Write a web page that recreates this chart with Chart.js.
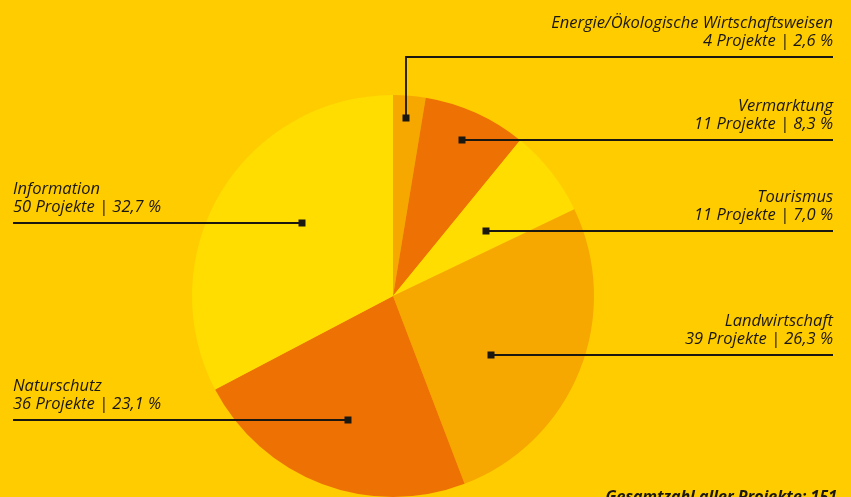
<!DOCTYPE html>
<html>
<head>
<meta charset="utf-8">
<script src="https://cdn.jsdelivr.net/npm/chart.js@4"></script>
<style>
html,body{margin:0;padding:0;background:#FFCC00;overflow:hidden;}
#wrap{width:851px;height:497px;position:relative;}
</style>
</head>
<body>
<div id="wrap"><canvas id="c" width="851" height="497"></canvas></div>
<script>
const categories = ["Energie/Ökologische Wirtschaftsweisen","Vermarktung","Tourismus","Landwirtschaft","Naturschutz","Information"];
const projects = [4, 11, 11, 39, 36, 50];
const percents = [2.6, 8.3, 7.0, 26.3, 23.1, 32.7];
const sliceColors = ["#F6A800","#EE7203","#FFDD00","#F6A800","#EE7203","#FFDD00"];
const totalLabel = "Gesamtzahl aller Projekte: 151";

// label/marker styling: marker angle (deg from top, clockwise) & radius fraction; label side
const markerStyle = [
  {ang:4.2,  rf:0.89, side:"right", elbowY:57},
  {ang:24,   rf:0.85, side:"right"},
  {ang:55,   rf:0.565,side:"right"},
  {ang:121,  rf:0.57, side:"right"},
  {ang:200,  rf:0.655,side:"left"},
  {ang:309,  rf:0.58, side:"left"}
];

function fmt(v){ return v.toFixed(1).replace('.', ','); }

const labelPlugin = {
  id:'labels',
  afterDraw(chart){
    const ctx = chart.ctx;
    const arc = chart.getDatasetMeta(0).data[0];
    const cx = arc.x, cy = arc.y, R = arc.outerRadius;
    const rightX = 833, leftX = 13;
    ctx.save();
    ctx.font = "italic 16.5px 'Open Sans'";
    ctx.fillStyle = "#1a1710";
    ctx.strokeStyle = "#1a1710";
    ctx.lineWidth = 1.8;
    categories.forEach((name, i) => {
      const s = markerStyle[i];
      const a = (s.ang - 90) * Math.PI/180;
      const mx = Math.round(cx + Math.cos(a)*R*s.rf);
      const my = Math.round(cy + Math.sin(a)*R*s.rf);
      const ly = s.elbowY !== undefined ? s.elbowY : my;
      ctx.beginPath();
      if (s.elbowY !== undefined){
        ctx.moveTo(mx, my); ctx.lineTo(mx, ly); ctx.lineTo(rightX, ly);
      } else if (s.side === "right"){
        ctx.moveTo(mx, ly); ctx.lineTo(rightX, ly);
      } else {
        ctx.moveTo(leftX, ly); ctx.lineTo(mx, ly);
      }
      ctx.stroke();
      ctx.fillRect(mx-3.5, my-3.5, 7, 7);
      const l2 = projects[i] + " Projekte | " + fmt(percents[i]) + " %";
      if (s.side === "right"){
        ctx.textAlign = "right";
        ctx.fillText(name, rightX, ly-29);
        ctx.fillText(l2, rightX, ly-11);
      } else {
        ctx.textAlign = "left";
        ctx.fillText(name, leftX, ly-29);
        ctx.fillText(l2, leftX, ly-11);
      }
    });
    ctx.font = "italic bold 16px 'Open Sans'";
    ctx.textAlign = "right";
    ctx.fillText(totalLabel, 837, 502);
    ctx.restore();
  }
};

new Chart(document.getElementById('c'), {
  type:'pie',
  data:{
    labels: categories,
    datasets:[{data: percents, backgroundColor: sliceColors, borderWidth:0, hoverOffset:0}]
  },
  options:{
    responsive:false,
    animation:false,
    layout:{padding:{top:95,bottom:0,left:192,right:257}},
    plugins:{legend:{display:false},tooltip:{enabled:false}},
    events:[]
  },
  plugins:[labelPlugin]
});
</script>
</body>
</html>
